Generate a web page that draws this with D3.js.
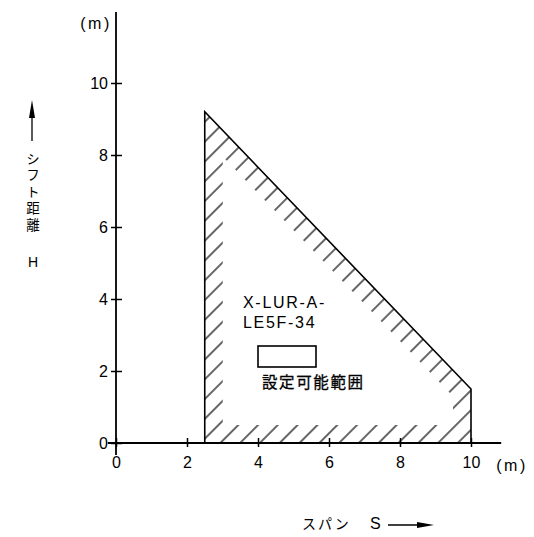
<!DOCTYPE html>
<html><head><meta charset="utf-8">
<script src="https://cdn.jsdelivr.net/npm/d3@7/dist/d3.min.js"></script>
<style>body{margin:0;background:#fff}svg{display:block}</style>
</head><body>
<svg id="c" width="534" height="537"></svg>
<script>
// Data
const xTicks = [0, 2, 4, 6, 8, 10];
const yTicks = [0, 2, 4, 6, 8, 10];
const regionS = [2.5, 2.5, 10, 10];   // span S (m)
const regionH = [0, 9.2, 1.5, 0];     // shift distance H (m)
const modelLines = ["X-LUR-A-", "LE5F-34"];
const legendText = "設定可能範囲";
const yLabel = "シフト距離";

const svg = d3.select("#c");
const x = d3.scaleLinear().domain([0, 10]).range([116, 471]);
const y = d3.scaleLinear().domain([0, 10]).range([443, 83]);
const font = "'Liberation Sans Narrow', 'Liberation Sans', Arial, sans-serif";
const jfont = "'Noto Sans CJK JP', sans-serif";
const ink = "#000";

// hatch pattern
const defs = svg.append("defs");
const pat = defs.append("pattern").attr("id", "hatch")
  .attr("patternUnits", "userSpaceOnUse").attr("width", 14).attr("height", 14)
  .attr("patternTransform", "rotate(45)");
pat.append("line").attr("x1", 7).attr("x2", 7).attr("y1", 0).attr("y2", 14)
  .attr("stroke", ink).attr("stroke-width", 1.2);

const pts = regionS.map((s, i) => [x(s), y(regionH[i])]);
const line = d3.line().curve(d3.curveLinearClosed);
defs.append("clipPath").attr("id", "poly").append("path").attr("d", line(pts));

// hatched band inside the polygon
svg.append("path").attr("d", line(pts)).attr("fill", "none")
  .attr("stroke", "url(#hatch)").attr("stroke-width", 36)
  .attr("stroke-linejoin", "miter").attr("clip-path", "url(#poly)");
svg.append("path").attr("d", line(pts)).attr("fill", "none")
  .attr("stroke", ink).attr("stroke-width", 1.6).attr("stroke-linejoin", "miter");

// axes
const ax = svg.append("g").attr("transform", `translate(0,${y(0)})`)
  .call(d3.axisBottom(x).tickValues(xTicks).tickSize(4).tickPadding(10).tickFormat(d3.format("d")));
ax.select(".domain").remove();
ax.selectAll(".tick line").attr("y1", -5).attr("y2", 4).attr("stroke", ink).attr("stroke-width", 1.5);
ax.selectAll(".tick text").attr("font-family", font).attr("font-size", 16).attr("fill", ink);

const ay = svg.append("g").attr("transform", `translate(${x(0)},0)`)
  .call(d3.axisLeft(y).tickValues(yTicks).tickSize(5).tickPadding(3).tickFormat(d3.format("d")));
ay.select(".domain").remove();
ay.selectAll(".tick line").attr("x1", 6).attr("x2", -5).attr("stroke", ink).attr("stroke-width", 1.5);
ay.selectAll(".tick text").attr("font-family", font).attr("font-size", 16).attr("fill", ink);

svg.append("line").attr("x1", x(0)).attr("x2", x(0)).attr("y1", y(11.97)).attr("y2", y(-0.33))
  .attr("stroke", ink).attr("stroke-width", 1.8);
svg.append("line").attr("x1", x(-0.23)).attr("x2", x(10.85)).attr("y1", y(0)).attr("y2", y(0))
  .attr("stroke", ink).attr("stroke-width", 1.8);

// units
svg.append("text").attr("x", 96).attr("y", 29).attr("text-anchor", "middle")
  .attr("font-family", font).attr("font-size", 16).attr("letter-spacing", 2.5).attr("fill", ink).text("(m)");
svg.append("text").attr("x", 512).attr("y", 471).attr("text-anchor", "middle")
  .attr("font-family", font).attr("font-size", 16).attr("letter-spacing", 2.5).attr("fill", ink).text("(m)");

// y label (vertical)
svg.append("line").attr("x1", 32).attr("x2", 32).attr("y1", 141).attr("y2", 112)
  .attr("stroke", ink).attr("stroke-width", 1.3);
svg.append("path").attr("d", "M32,100 L29,118 L35,118 Z").attr("fill", ink);
svg.append("text").attr("x", 33).attr("y", 152)
  .attr("writing-mode", "vertical-rl").attr("text-orientation", "upright")
  .attr("font-family", jfont).attr("font-size", 13.5).attr("letter-spacing", 3)
  .attr("fill", ink).text(yLabel);
svg.append("text").attr("x", 33).attr("y", 267).attr("text-anchor", "middle")
  .attr("font-family", font).attr("font-size", 14).attr("fill", ink).text("H");

// x label
svg.append("text").attr("x", 302).attr("y", 529)
  .attr("font-family", jfont).attr("font-size", 14).attr("fill", ink).attr("letter-spacing", 2).text("スパン");
svg.append("text").attr("x", 370).attr("y", 529)
  .attr("font-family", font).attr("font-size", 16).attr("fill", ink).text("S");
svg.append("line").attr("x1", 388).attr("x2", 422).attr("y1", 525).attr("y2", 525)
  .attr("stroke", ink).attr("stroke-width", 1.3);
svg.append("path").attr("d", "M434,525 L417,522 L417,528 Z").attr("fill", ink);

// model label
modelLines.forEach((t, i) => {
  svg.append("text").attr("x", 243).attr("y", 308 + i * 20)
    .attr("font-family", font).attr("font-size", 16).attr("letter-spacing", 1.7)
    .attr("fill", ink).text(t);
});
// legend
svg.append("rect").attr("x", 258).attr("y", 346).attr("width", 58).attr("height", 21)
  .attr("fill", "none").attr("stroke", ink).attr("stroke-width", 1.6);
svg.append("text").attr("x", 262).attr("y", 388)
  .attr("font-family", jfont).attr("font-size", 15.5).attr("letter-spacing", 1.6)
  .attr("stroke", ink).attr("stroke-width", 0.3)
  .attr("fill", ink).text(legendText);
</script>
</body></html>
